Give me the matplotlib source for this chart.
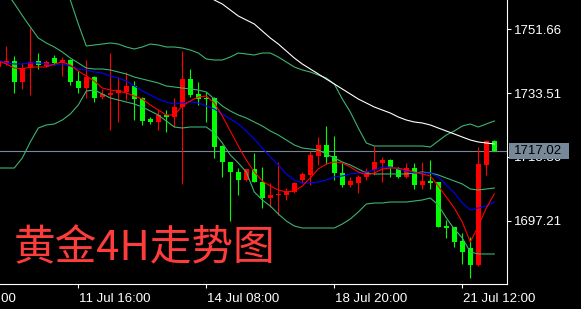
import matplotlib
matplotlib.use('Agg')
import matplotlib.pyplot as plt
import numpy as np
from matplotlib.transforms import blended_transform_factory
from matplotlib.patches import Rectangle

# Gold H4 candles, oldest first (first one is cut off at the left edge)
opens = [1741.02, 1741.71, 1742.65, 1736.76, 1740.74, 1742.65, 1741.31, 1743.58, 1741.99, 1742.93,
         1736.96, 1734.96, 1738.01, 1732.32, 1732.97, 1733.46, 1733.91, 1735.53, 1732.20, 1726.14,
         1725.38, 1727.28, 1726.80, 1729.47, 1737.52, 1733.26, 1732.20, 1732.20, 1718.46, 1713.91,
         1711.15, 1708.79, 1711.83, 1708.36, 1703.53, 1704.38, 1704.66, 1705.38, 1708.79, 1710.07,
         1715.70, 1718.75, 1715.48, 1710.78, 1707.37, 1708.02, 1709.56, 1711.63, 1713.71, 1714.48,
         1712.12, 1709.73, 1712.12, 1707.37, 1708.51, 1708.08, 1695.79, 1695.50, 1691.44, 1689.36,
         1684.61, 1713.06, 1719.89]
highs = [1742.93, 1746.91, 1744.07, 1741.99, 1751.95, 1745.01, 1742.93, 1744.44, 1743.70, 1743.21,
         1739.80, 1742.93, 1738.38, 1734.68, 1744.84, 1738.18, 1739.60, 1737.04, 1732.40, 1726.80,
         1728.70, 1728.70, 1732.12, 1745.49, 1740.37, 1736.67, 1733.83, 1732.49, 1718.75, 1714.00,
         1712.20, 1711.92, 1716.47, 1712.49, 1707.94, 1713.91, 1706.51, 1708.31, 1711.07, 1717.04,
         1721.02, 1724.15, 1721.31, 1713.63, 1709.64, 1710.21, 1712.12, 1718.46, 1715.42, 1714.85,
         1712.57, 1713.63, 1713.71, 1713.91, 1714.48, 1708.08, 1697.41, 1695.50, 1693.63, 1692.66,
         1718.18, 1720.17, 1720.17]
lows = [1740.94, 1741.51, 1733.46, 1734.68, 1732.97, 1740.37, 1740.94, 1741.51, 1738.38, 1735.82,
        1733.63, 1732.12, 1731.07, 1731.83, 1723.01, 1725.38, 1731.55, 1725.86, 1724.44, 1724.72,
        1723.01, 1722.53, 1723.87, 1707.65, 1732.40, 1730.13, 1725.29, 1715.05, 1709.73, 1697.21,
        1704.52, 1708.59, 1708.22, 1700.82, 1701.11, 1698.83, 1702.96, 1705.09, 1707.94, 1707.37,
        1713.06, 1713.34, 1708.79, 1706.80, 1706.80, 1705.18, 1708.79, 1710.21, 1708.31, 1709.73,
        1709.44, 1709.27, 1706.14, 1706.23, 1706.23, 1695.42, 1692.29, 1689.73, 1684.89, 1680.82,
        1684.32, 1710.21, 1716.90]
closes = [1742.45, 1742.73, 1736.76, 1740.74, 1742.45, 1741.51, 1742.36, 1741.99, 1742.93, 1736.76,
          1735.05, 1738.01, 1732.20, 1733.26, 1733.63, 1734.39, 1735.53, 1731.83, 1725.66, 1725.38,
          1727.28, 1726.80, 1729.47, 1737.52, 1732.97, 1731.83, 1731.83, 1718.18, 1713.77, 1711.15,
          1708.79, 1711.83, 1708.31, 1703.53, 1704.52, 1704.81, 1705.66, 1707.85, 1710.50, 1715.90,
          1718.75, 1715.42, 1710.64, 1707.37, 1708.59, 1709.64, 1711.35, 1713.91, 1714.48, 1712.40,
          1709.73, 1712.20, 1707.37, 1708.51, 1707.85, 1695.50, 1695.13, 1691.24, 1688.31, 1684.61,
          1713.34, 1719.89, 1717.02]

# indicators, one value per candle
ma_fast = [1742.65, 1741.79, 1740.65, 1740.37, 1740.94, 1740.94, 1740.94, 1741.79, 1742.36, 1741.51,
           1739.80, 1738.38, 1736.96, 1734.96, 1734.39, 1734.11, 1733.54, 1732.69, 1731.83, 1730.13,
           1728.70, 1727.28, 1727.28, 1729.84, 1731.27, 1732.40, 1732.69, 1730.70, 1727.00, 1722.73,
           1718.46, 1714.48, 1711.07, 1708.51, 1707.08, 1705.95, 1705.38, 1705.66, 1707.08, 1709.36,
           1711.92, 1713.34, 1713.91, 1713.63, 1712.49, 1711.07, 1710.21, 1710.78, 1711.92, 1712.20,
           1712.20, 1711.63, 1711.07, 1710.50, 1709.93, 1707.08, 1703.95, 1700.82, 1696.84, 1691.15,
           1695.70, 1700.82, 1704.81]
ma_slow = [1742.93, 1742.08, 1741.79, 1741.79, 1742.08, 1742.08, 1741.79, 1741.51, 1741.79, 1741.22,
           1740.37, 1740.09, 1739.52, 1739.23, 1738.38, 1737.81, 1736.96, 1735.53, 1734.11, 1732.97,
           1731.83, 1730.98, 1730.41, 1730.70, 1730.98, 1730.70, 1729.84, 1728.99, 1727.57, 1726.14,
           1724.72, 1722.73, 1720.45, 1717.89, 1715.33, 1713.06, 1710.50, 1708.79, 1707.94, 1707.94,
           1708.22, 1708.79, 1709.64, 1709.93, 1710.50, 1710.78, 1711.07, 1711.63, 1712.49, 1712.49,
           1711.92, 1711.35, 1710.78, 1710.78, 1710.78, 1709.64, 1707.37, 1705.09, 1702.25, 1700.25,
           1700.82, 1701.39, 1702.53]
ma_long = [1806.09, 1804.38, 1802.68, 1800.97, 1799.26, 1797.55, 1795.85, 1794.14, 1792.43, 1790.73,
           1789.02, 1787.31, 1785.61, 1783.90, 1782.19, 1780.48, 1778.78, 1777.07, 1775.36, 1773.66,
           1771.95, 1770.24, 1768.54, 1766.83, 1765.12, 1763.41, 1761.71, 1760.00, 1758.86, 1757.16,
           1755.45, 1754.31, 1753.17, 1751.18, 1749.19, 1747.48, 1745.49, 1743.50, 1741.79, 1740.37,
           1738.95, 1737.52, 1736.10, 1734.68, 1733.26, 1731.83, 1730.70, 1729.56, 1728.70, 1727.85,
           1726.71, 1725.86, 1725.29, 1725.01, 1724.44, 1723.58, 1722.73, 1721.88, 1721.02, 1720.17,
           1719.60, 1719.32, 1719.03]
bb_upper = [1822.02, 1813.49, 1806.09, 1796.42, 1785.04, 1774.79, 1771.10, 1768.54, 1764.55, 1760.00,
            1753.17, 1746.91, 1747.20, 1747.48, 1747.77, 1747.48, 1746.63, 1746.06, 1746.63, 1747.48,
            1747.20, 1746.63, 1746.63, 1746.34, 1745.78, 1744.92, 1743.21, 1742.93, 1742.93, 1743.78,
            1744.92, 1744.64, 1744.35, 1744.92, 1744.92, 1743.78, 1742.36, 1740.94, 1740.09, 1739.52,
            1738.66, 1737.81, 1736.10, 1731.83, 1728.14, 1723.58, 1719.32, 1718.46, 1718.46, 1718.46,
            1718.46, 1718.46, 1718.46, 1718.46, 1718.18, 1719.89, 1721.59, 1722.73, 1724.15, 1724.72,
            1723.87, 1724.72, 1725.58]
bb_middle = [1765.69, 1762.28, 1759.00, 1755.59, 1752.32, 1749.19, 1747.77, 1746.63, 1745.21, 1743.50,
             1742.08, 1740.65, 1740.37, 1740.37, 1740.09, 1739.52, 1738.95, 1738.09, 1737.52, 1736.96,
             1736.39, 1735.53, 1735.25, 1734.96, 1734.68, 1734.39, 1733.83, 1731.83, 1729.84, 1728.42,
             1727.28, 1726.43, 1725.29, 1724.15, 1722.73, 1721.59, 1720.17, 1718.75, 1717.89, 1717.61,
             1717.33, 1716.19, 1715.05, 1713.91, 1713.06, 1711.92, 1710.78, 1710.50, 1710.50, 1710.50,
             1710.50, 1710.50, 1710.78, 1711.07, 1710.78, 1710.21, 1709.36, 1708.51, 1707.65, 1706.23,
             1705.95, 1706.23, 1706.51]
bb_lower = [1712.20, 1712.20, 1712.20, 1715.05, 1719.60, 1723.58, 1724.44, 1724.72, 1725.86, 1727.57,
            1730.13, 1734.11, 1734.39, 1733.26, 1732.12, 1731.55, 1730.98, 1730.41, 1729.56, 1728.42,
            1727.28, 1725.58, 1723.87, 1723.58, 1723.87, 1723.87, 1723.87, 1722.16, 1719.32, 1715.90,
            1713.63, 1711.07, 1705.38, 1703.10, 1701.39, 1699.12, 1697.13, 1695.70, 1695.13, 1695.13,
            1695.13, 1695.13, 1695.13, 1696.27, 1697.69, 1699.69, 1701.96, 1702.25, 1702.25, 1702.53,
            1702.53, 1702.53, 1702.82, 1703.10, 1703.67, 1701.68, 1697.98, 1694.85, 1692.29, 1688.31,
            1687.74, 1687.74, 1687.74]

price_ticks = [1751.66, 1733.51, 1715.36, 1697.21]
time_labels = ['7 Jul 12:00', '11 Jul 16:00', '14 Jul 08:00', '18 Jul 20:00', '21 Jul 12:00']
time_label_bars = [-6, 10, 26, 42, 58]
title = '黄金4H走势图'

fig = plt.figure(figsize=(5.81, 3.09), dpi=100, facecolor='black')
ax = fig.add_axes([0, 25 / 309, 506.7 / 581, 284 / 309])
ax.set_facecolor('black')

x = np.arange(len(opens))
o = np.array(opens)
c = np.array(closes)
cols = np.where(c >= o, '#ff0000', '#00ff00')

last = closes[-1]
ax.axhline(last, color='#778899', lw=0.8, zorder=1)

ax.vlines(x, lows, highs, colors=cols, lw=0.8, zorder=2)
ax.bar(x, np.abs(c - o), bottom=np.minimum(o, c), width=0.62, color=cols, lw=0, zorder=3)

lw = 0.8
for band in (bb_upper, bb_middle, bb_lower):
    ax.plot(x, band, color='#3cb371', lw=lw, zorder=4)
ax.plot(x, ma_long, color='white', lw=lw, zorder=4)
ax.plot(x, ma_slow, color='#0000ff', lw=lw, zorder=5)
ax.plot(x, ma_fast, color='#ff0000', lw=lw, zorder=5)

ax.set_xlim(0.2125, 63.55)
ax.set_ylim(1679.2, 1760.0)

for s in ['top', 'left']:
    ax.spines[s].set_visible(False)
for s in ['right', 'bottom']:
    ax.spines[s].set_color('white')
    ax.spines[s].set_linewidth(0.8)

ax.yaxis.tick_right()
ax.set_yticks(price_ticks)
ax.set_yticklabels(['%.2f' % p for p in price_ticks])
ax.tick_params(axis='y', colors='white', length=3, width=0.8, pad=2, labelsize=9.5)
for t in ax.get_yticklabels():
    t.set_fontfamily('Liberation Sans')

ax.set_xticks([b for b in time_label_bars if b > 0])
ax.set_xticklabels([])
ax.tick_params(axis='x', colors='white', length=3, width=0.8)
tr = blended_transform_factory(ax.transData, ax.transAxes)
for b, lab in zip(time_label_bars, time_labels):
    ax.text(b + 0.05, -0.03, lab, transform=tr, color='white', fontsize=9.5,
            family='Liberation Sans', ha='left', va='top', clip_on=False)

# current price box
trb = blended_transform_factory(ax.transAxes, ax.transData)
ax.add_patch(Rectangle((1.0045, last - 2.3), 0.118, 4.6, transform=trb,
                       facecolor='#778899', edgecolor='none', clip_on=False, zorder=6))
ax.text(1.015, last, '%.2f' % last, transform=trb, color='black', fontsize=9.5,
        family='Liberation Sans', ha='left', va='center', zorder=7, clip_on=False)

ax.text(14 / 506.7, 1 - 249 / 284, title, transform=ax.transAxes, fontsize=30,
        color='#ff3c3c', family=['Noto Sans CJK SC', 'DejaVu Sans'],
        ha='left', va='center', zorder=8)

fig.savefig('out.png', dpi=100, facecolor='black')
